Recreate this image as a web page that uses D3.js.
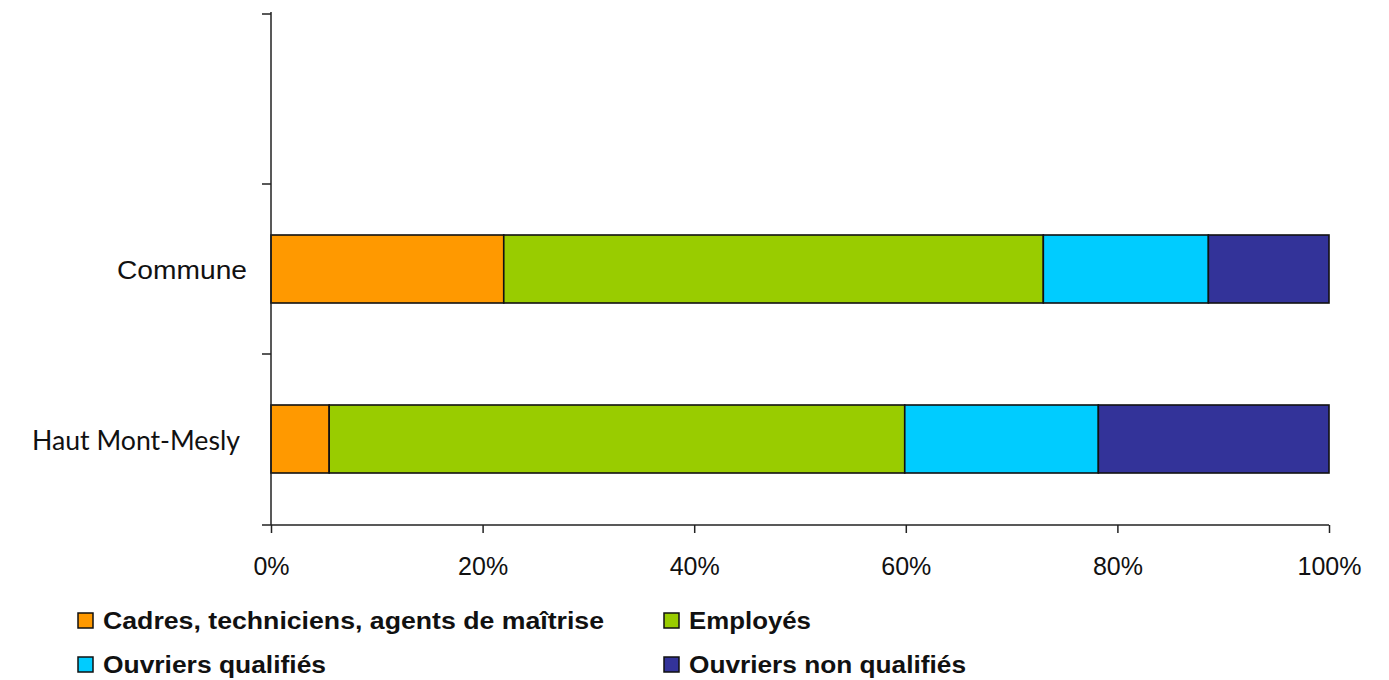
<!DOCTYPE html>
<html>
<head>
<meta charset="utf-8">
<script src="https://cdn.jsdelivr.net/npm/d3@7"></script>
<style>
  html, body { margin: 0; padding: 0; background: #fff; }
  svg { display: block; }
</style>
</head>
<body>
<svg id="chart" width="1389" height="680"></svg>
<script>
// Catégories socioprofessionnelles (parts en %)
const territories = ["Commune", "Haut Mont-Mesly"];
const groups = ["Cadres, techniciens, agents de maîtrise", "Employés", "Ouvriers qualifiés", "Ouvriers non qualifiés"];
const cadres = [22.0, 5.5];
const employes = [51.0, 54.4];
const ouvriersQualifies = [15.6, 18.3];
const ouvriersNonQualifies = [11.4, 21.8];
const groupColors = ["#FF9900", "#99CC00", "#00CCFF", "#333399"];
const xTicks = [0, 20, 40, 60, 80, 100];

const rows = territories.map((t, i) => ({
  territory: t,
  [groups[0]]: cadres[i],
  [groups[1]]: employes[i],
  [groups[2]]: ouvriersQualifies[i],
  [groups[3]]: ouvriersNonQualifies[i]
}));

const svg = d3.select("#chart");
const plot = { left: 271, right: 1329, top: 14, bottom: 525 };

// empty slot on top, as in the original layout
const slots = ["_blank", ...territories];
const x = d3.scaleLinear().domain([0, 100]).range([plot.left, plot.right]);
const y = d3.scaleBand().domain(slots).range([plot.top, plot.bottom - 1])
  .paddingInner(0.6).paddingOuter(0.3);

const stack = d3.stack().keys(groups);
const series = stack(rows);
const color = d3.scaleOrdinal().domain(groups).range(groupColors);

// bars
svg.append("g").selectAll("g").data(series).join("g")
  .attr("fill", d => color(d.key))
  .selectAll("rect").data(d => d).join("rect")
    .attr("x", d => x(d[0]))
    .attr("y", d => y(d.data.territory))
    .attr("width", d => x(d[1]) - x(d[0]))
    .attr("height", y.bandwidth())
    .attr("stroke", "#111")
    .attr("stroke-width", 1.6);

// x axis
const xAxis = svg.append("g")
  .attr("transform", `translate(0,${plot.bottom})`)
  .call(d3.axisBottom(x).tickValues(xTicks).tickFormat(d => d + "%").tickSize(8).tickSizeOuter(0));
xAxis.select(".domain").remove();
xAxis.append("line").attr("x1", plot.left - 9).attr("x2", plot.right).attr("y1", 0).attr("y2", 0)
  .attr("stroke", "#222").attr("stroke-width", 1.5);
xAxis.selectAll(".tick line").attr("stroke", "#222").attr("stroke-width", 1.5);
xAxis.selectAll(".tick text")
  .attr("y", 50).attr("dy", 0)
  .attr("fill", "#111")
  .style("font-family", "'Liberation Sans', Arial, sans-serif")
  .style("font-size", "25px");

// y axis: line with ticks between categories
const yAxis = svg.append("g");
yAxis.append("line").attr("x1", plot.left).attr("x2", plot.left).attr("y1", plot.top - 2).attr("y2", plot.bottom)
  .attr("stroke", "#222").attr("stroke-width", 1.5);
const step = y.step();
const boundaries = slots.map((s, i) => y(slots[0]) - y.paddingOuter() * step + i * step);
yAxis.selectAll("line.tk").data(boundaries).join("line").attr("class", "tk")
  .attr("x1", plot.left - 9).attr("x2", plot.left)
  .attr("y1", d => d).attr("y2", d => d)
  .attr("stroke", "#222").attr("stroke-width", 1.5);

// category labels
const labelStyle = [
  { family: "'Liberation Sans', Arial, sans-serif", size: 26, len: 130, endX: 247, dy: 10 },
  { family: "Lato, 'Open Sans', sans-serif", size: 26, len: 208, endX: 240, dy: 11 }
];
svg.append("g").selectAll("text").data(territories).join("text")
  .attr("x", (d, i) => labelStyle[i].endX - labelStyle[i].len)
  .attr("y", (d, i) => y(d) + y.bandwidth() / 2 + labelStyle[i].dy)
  .attr("textLength", (d, i) => labelStyle[i].len)
  .attr("lengthAdjust", "spacingAndGlyphs")
  .style("font-family", (d, i) => labelStyle[i].family)
  .style("font-size", (d, i) => labelStyle[i].size + "px")
  .attr("fill", "#111")
  .text(d => d);

// legend
const legendPos = [
  { x: 78, y: 613, len: 501 },
  { x: 664, y: 613, len: 122 },
  { x: 78, y: 657, len: 223 },
  { x: 664, y: 657, len: 277 }
];
const legend = svg.append("g").selectAll("g").data(groups).join("g")
  .attr("transform", (d, i) => `translate(${legendPos[i].x},${legendPos[i].y})`);
legend.append("rect")
  .attr("width", 15).attr("height", 15)
  .attr("fill", d => color(d))
  .attr("stroke", "#111").attr("stroke-width", 1.5);
legend.append("text")
  .attr("x", 25).attr("y", 16)
  .attr("textLength", (d, i) => legendPos[i].len)
  .attr("lengthAdjust", "spacingAndGlyphs")
  .style("font-family", "'Liberation Sans', Arial, sans-serif")
  .style("font-weight", "bold")
  .style("font-size", "23.5px")
  .attr("fill", "#111")
  .text(d => d);
</script>
</body>
</html>
